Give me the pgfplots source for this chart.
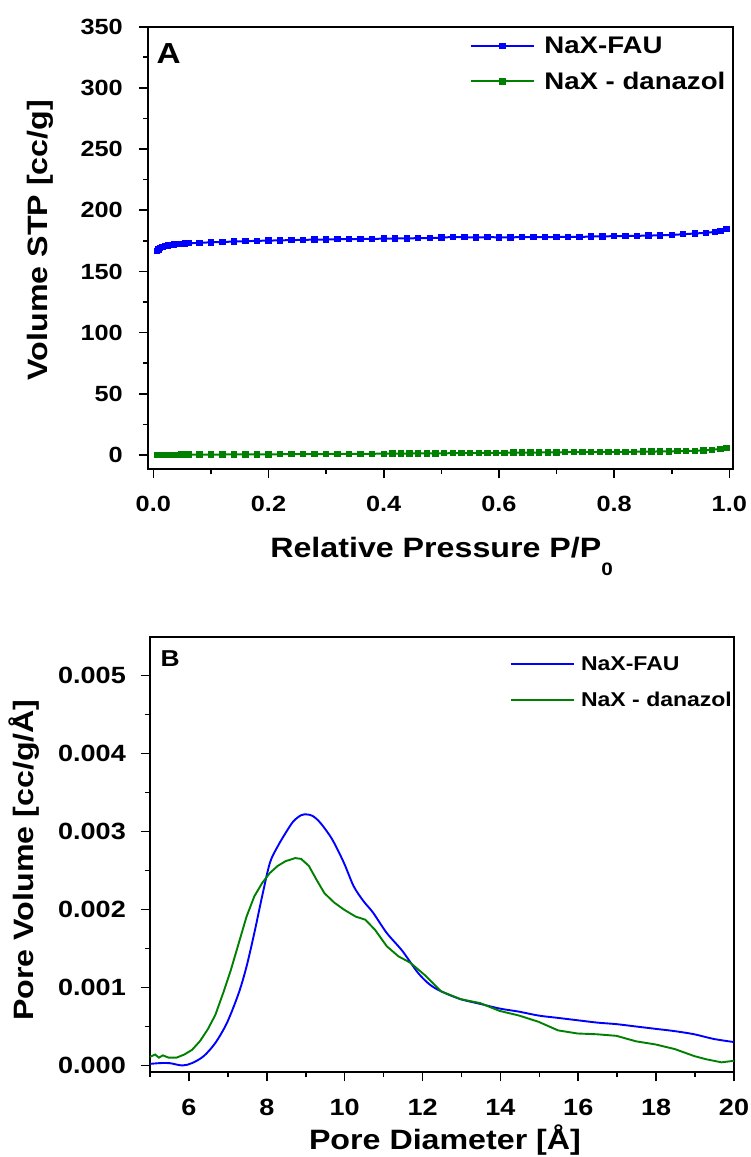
\documentclass[border=0pt]{standalone}
\usepackage{fontspec}
\setmainfont{Liberation Sans}[FakeStretch=1.15]
\usepackage{pgfplots}
\pgfplotsset{compat=1.18}
\definecolor{cblue}{RGB}{0,0,255}
\definecolor{cgreen}{RGB}{0,128,0}
\newcommand{\fs}[1]{\fontsize{#1}{#1}\selectfont\bfseries}
\pgfplotsset{
  common/.style={
    scale only axis,
    axis line style={line width=2pt},
    tick style={line width=1.6pt, black},
    major tick length=9pt, minor tick length=5pt,
    tick align=outside, tick pos=left,
    minor x tick num=1, minor y tick num=1,
    /pgf/number format/assume math mode=true,
    legend cell align=left,
    clip=false,
  }
}
\begin{document}
\begin{tikzpicture}
\useasboundingbox (0pt,0pt) rectangle (750pt,-1157pt);
% ---------------- Panel A
\begin{axis}[common,
  at={(148pt,-469.3pt)}, anchor=south west,
  width=585.3pt, height=442.6pt,
  xmin=-0.0092, xmax=1.0069, ymin=-11.7, ymax=350,
  xtick={0,0.2,...,1.0}, ytick={0,50,...,350},
  xticklabel style={font=\fs{22}, anchor=base, inner sep=0pt, yshift=-33.4pt, /pgf/number format/.cd, fixed, fixed zerofill, precision=1},
  yticklabel style={font=\fs{22}, anchor=east, inner sep=0pt, xshift=-16pt},
  xlabel={Relative Pressure P/P\raisebox{-18pt}{\fontsize{18}{18}\selectfont 0}},
  ylabel={Volume STP [cc/g]},
  xlabel style={font=\fs{28}, at={(axis description cs:0.5,0)}, anchor=base, yshift=-87.7pt, xshift=1pt},
  ylabel style={font=\fs{28}, at={(axis description cs:0,0.5)}, anchor=base, yshift=100.7pt, xshift=8pt},
  legend style={at={(axis description cs:0.5496,0.9774)}, anchor=north west, draw=none, fill=none,
     inner sep=0pt, nodes={inner sep=0pt}, row sep=17pt, column sep=9pt, font=\fs{24}},
  legend image code/.code={\draw[mark repeat=2,mark phase=2,#1] plot coordinates {(0pt,0pt) (31.75pt,0pt) (63.5pt,0pt)};},
]
\addplot[cblue, line width=2pt, mark=square*, mark size=2.2pt, mark options={solid}] coordinates {
(0.006,166.5)(0.009,168.0)(0.012,169.0)(0.016,170.0)(0.020,170.6)(0.025,171.1)(0.030,171.5)
(0.036,171.9)(0.042,172.2)(0.048,172.5)(0.055,172.8)(0.062,173.0)(0.080,173.4)(0.100,173.8)
(0.120,174.1)(0.140,174.4)(0.160,174.7)(0.180,175.0)(0.200,175.2)(0.220,175.4)(0.240,175.6)
(0.260,175.8)(0.280,176.0)(0.300,176.1)(0.320,176.3)(0.340,176.4)(0.360,176.5)(0.380,176.6)
(0.400,176.8)(0.420,176.9)(0.440,177.0)(0.460,177.2)(0.480,177.3)(0.500,177.6)(0.520,178.2)
(0.540,178.0)(0.560,177.8)(0.580,178.0)(0.600,177.9)(0.620,177.9)(0.640,178.0)(0.660,178.1)
(0.680,178.0)(0.700,178.2)(0.720,178.3)(0.740,178.1)(0.760,178.6)(0.780,178.7)(0.800,178.8)
(0.820,179.0)(0.840,179.1)(0.860,179.3)(0.880,179.5)(0.900,179.8)(0.920,180.4)(0.940,181.0)
(0.960,181.6)(0.975,182.3)(0.985,183.2)(0.995,184.5)};
\addlegendentry{NaX-FAU}
\addplot[cgreen, line width=2pt, mark=square*, mark size=2.2pt, mark options={solid}] coordinates {
(0.006,0.0)(0.009,0.05)(0.012,0.1)(0.016,0.12)(0.020,0.15)(0.025,0.17)(0.030,0.19)(0.036,0.21)
(0.042,0.23)(0.048,0.25)(0.055,0.27)(0.062,0.3)(0.080,0.3)(0.100,0.35)(0.120,0.4)(0.140,0.45)
(0.160,0.5)(0.180,0.5)(0.200,0.55)(0.220,0.6)(0.240,0.65)(0.260,0.7)(0.280,0.75)(0.300,0.8)
(0.320,0.85)(0.340,0.9)(0.360,0.95)(0.380,1.0)(0.400,1.05)(0.415,1.1)(0.430,1.15)(0.445,1.2)
(0.460,1.25)(0.475,1.3)(0.490,1.35)(0.505,1.4)(0.520,1.45)(0.535,1.5)(0.550,1.6)(0.565,1.65)
(0.580,1.7)(0.595,1.8)(0.610,1.85)(0.625,1.9)(0.640,1.95)(0.655,2.0)(0.670,2.05)(0.685,2.1)
(0.700,2.2)(0.715,2.25)(0.730,2.3)(0.745,2.35)(0.760,2.4)(0.775,2.45)(0.790,2.5)(0.805,2.55)
(0.820,2.6)(0.835,2.65)(0.850,2.7)(0.865,2.8)(0.880,2.9)(0.895,3.0)(0.910,3.1)(0.925,3.3)
(0.940,3.5)(0.955,3.8)(0.970,4.3)(0.985,5.0)(0.995,5.8)};
\addlegendentry{NaX - danazol}
\node[anchor=base west, inner sep=0pt, font=\fs{29}] at (axis description cs:0.0145,0.917) {A};
\end{axis}
% ---------------- Panel B
\begin{axis}[common,
  at={(150pt,-1072.3pt)}, anchor=south west,
  width=584pt, height=435.6pt,
  xmin=5, xmax=20, ymin=-0.000088, ymax=0.0055,
  xtick={6,8,...,20}, minor xtick={5,7,...,19},
  minor x tick num=0,
  ytick={0,0.001,0.002,0.003,0.004,0.005},
  scaled y ticks=false,
  xticklabel style={font=\fs{23.5}, anchor=base, inner sep=0pt, yshift=-34pt},
  yticklabel style={font=\fs{23.5}, anchor=east, inner sep=0pt, xshift=-15pt, /pgf/number format/.cd, fixed, fixed zerofill, precision=3},
  xlabel={Pore Diameter [Å]},
  ylabel={Pore Volume [cc/g/Å]},
  xlabel style={font=\fs{28}, at={(axis description cs:0.5,0)}, anchor=base, yshift=-77.5pt, xshift=3pt},
  ylabel style={font=\fs{28}, at={(axis description cs:0,0.5)}, anchor=base, yshift=116.7pt, xshift=-5.5pt},
  legend style={at={(axis description cs:0.6154,0.955)}, anchor=north west, draw=none, fill=none,
     inner sep=0pt, nodes={inner sep=0pt}, row sep=19.8pt, column sep=6pt, font=\fs{20}},
  legend image code/.code={\draw[#1] (0pt,0pt) -- (63.6pt,0pt);},
]
\addplot[cblue, line width=1.9pt, smooth] coordinates {
(5.0,0.00002)(5.25,0.00003)(5.5,0.00003)(5.83,0.0)(6.08,0.00003)(6.38,0.00012)(6.68,0.00029)
(6.98,0.00055)(7.28,0.00093)(7.48,0.00127)(7.68,0.0017)(7.88,0.00217)(8.08,0.0026)(8.28,0.00281)
(8.48,0.00298)(8.68,0.00313)(8.88,0.00321)(9.03,0.00322)(9.18,0.0032)(9.38,0.00311)(9.68,0.0029)
(9.98,0.0026)(10.23,0.0023)(10.48,0.00211)(10.73,0.00196)(11.08,0.0017)(11.48,0.00147)
(11.88,0.00119)(12.18,0.00104)(12.48,0.00095)(12.98,0.00085)(13.48,0.00079)(13.98,0.00073)
(14.48,0.00069)(14.98,0.00064)(15.48,0.00061)(15.98,0.00058)(16.48,0.00055)(16.98,0.00053)
(17.48,0.0005)(17.98,0.00047)(18.48,0.00044)(18.98,0.0004)(19.48,0.00034)(20.0,0.0003)};
\addlegendentry{NaX-FAU}
\addplot[cgreen, line width=1.9pt] coordinates {
(5.0,0.00011)(5.13,0.00014)(5.23,0.0001)(5.33,0.00013)(5.48,0.0001)(5.68,0.0001)(5.88,0.00014)
(6.08,0.0002)(6.28,0.00031)(6.48,0.00046)(6.68,0.00065)(6.88,0.00093)(7.08,0.00123)(7.28,0.00157)
(7.48,0.00191)(7.68,0.00217)(7.88,0.00234)(8.08,0.00247)(8.28,0.00256)(8.48,0.00262)(8.73,0.00266)
(8.88,0.00265)(9.08,0.00256)(9.28,0.00238)(9.48,0.00221)(9.73,0.00209)(9.98,0.002)(10.28,0.00191)
(10.53,0.00187)(10.78,0.00174)(11.08,0.00153)(11.38,0.0014)(11.68,0.00132)(12.08,0.00115)
(12.48,0.00095)(12.98,0.00085)(13.48,0.0008)(13.98,0.0007)(14.48,0.00064)(14.98,0.00056)
(15.48,0.00045)(15.98,0.00041)(16.48,0.0004)(16.98,0.00038)(17.48,0.00031)(17.98,0.00027)
(18.48,0.00021)(18.98,0.00012)(19.28,0.00008)(19.68,0.00004)(20.0,0.00006)};
\addlegendentry{NaX - danazol}
\node[anchor=base west, inner sep=0pt, font=\fs{23}] at (axis description cs:0.018,0.931) {B};
\end{axis}
\end{tikzpicture}
\end{document}
